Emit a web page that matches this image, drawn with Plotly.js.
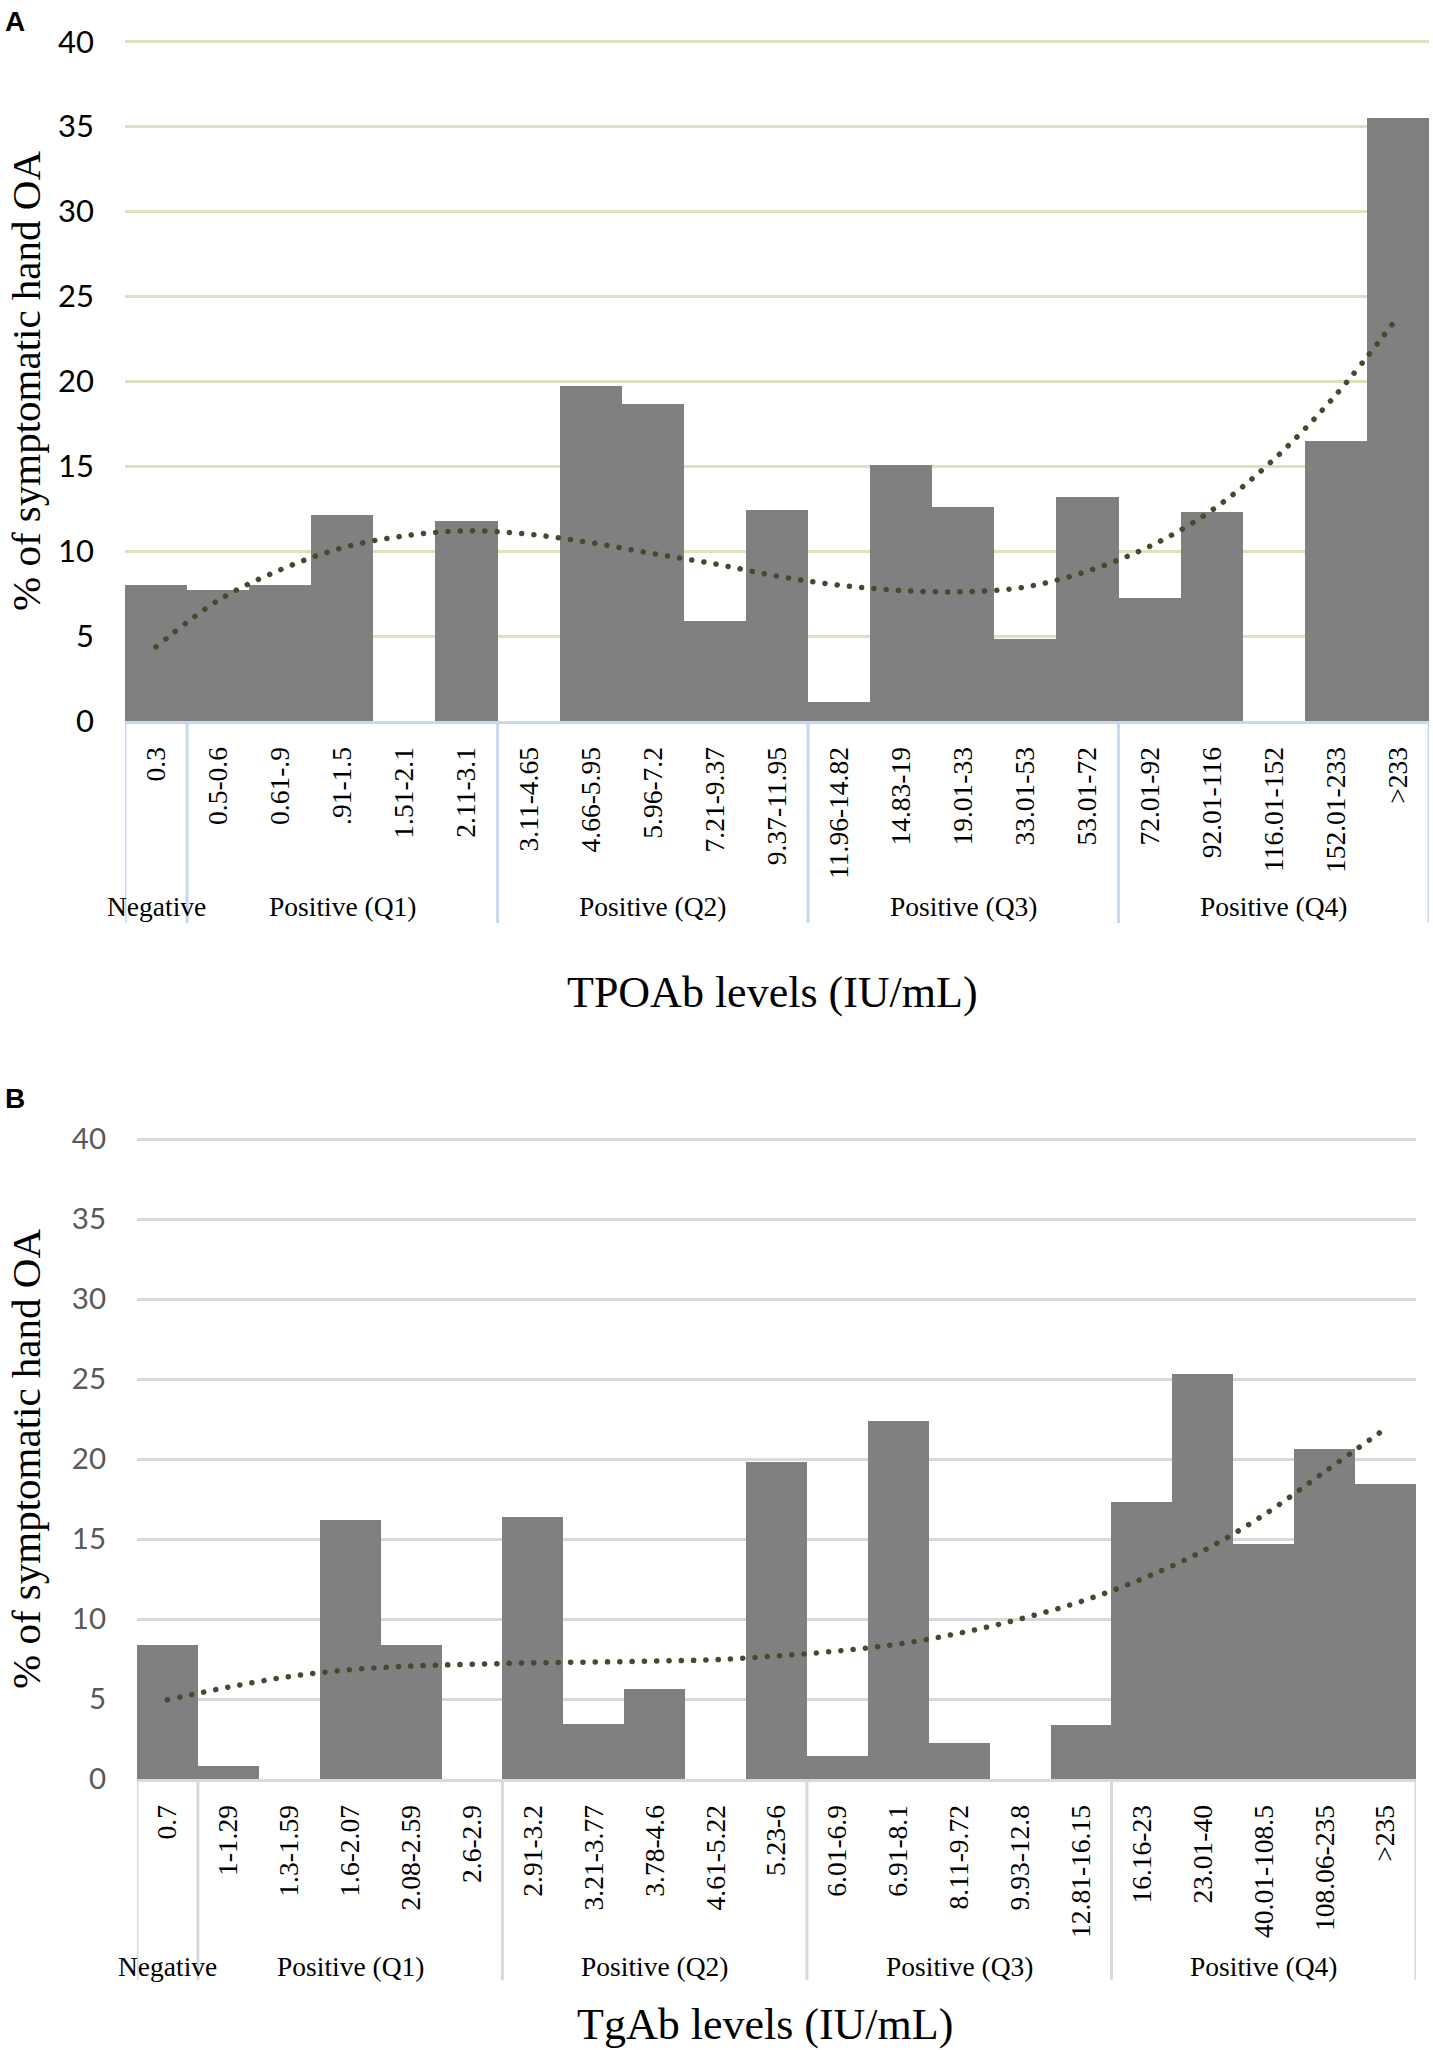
<!DOCTYPE html>
<html>
<head>
<meta charset="utf-8">
<script src="https://cdn.plot.ly/plotly-3.0.1.min.js"></script>
<style>
html,body{margin:0;padding:0;background:#fff;}
#chart{width:1433px;height:2050px;}
.scatterlayer .js-line{stroke-linecap:round;}
</style>
</head>
<body>
<div id="chart"></div>
<script>
// ---------- DATA ----------
const catsA = ["0.3","0.5-0.6","0.61-.9",".91-1.5","1.51-2.1","2.11-3.1","3.11-4.65","4.66-5.95","5.96-7.2","7.21-9.37","9.37-11.95","11.96-14.82","14.83-19","19.01-33","33.01-53","53.01-72","72.01-92","92.01-116","116.01-152","152.01-233",">233"];
const valuesA = [8.0, 7.7, 8.0, 12.15, 0, 11.8, 0, 19.7, 18.65, 5.9, 12.4, 1.1, 15.1, 12.6, 4.85, 13.2, 7.25, 12.3, 0, 16.5, 35.5];
const trendA = [4.36, 7.1, 8.9, 10.2, 10.9, 11.2, 11.0, 10.5, 9.86, 9.25, 8.53, 8.0, 7.69, 7.61, 7.89, 8.83, 10.28, 12.4, 15.4, 19.2, 23.8];
const groupNamesA = ["Negative","Positive (Q1)","Positive (Q2)","Positive (Q3)","Positive (Q4)"];
const groupSizesA = [1,5,5,5,5];

const catsB = ["0.7","1-1.29","1.3-1.59","1.6-2.07","2.08-2.59","2.6-2.9","2.91-3.2","3.21-3.77","3.78-4.6","4.61-5.22","5.23-6","6.01-6.9","6.91-8.1","8.11-9.72","9.93-12.8","12.81-16.15","16.16-23","23.01-40","40.01-108.5","108.06-235",">235"];
const valuesB = [8.4, 0.8, 0, 16.2, 8.37, 0, 16.36, 3.44, 5.6, 0, 19.8, 1.46, 22.4, 2.23, 0, 3.35, 17.3, 25.3, 14.67, 20.6, 18.45];
const trendB = [4.95, 5.74, 6.4, 6.83, 7.06, 7.17, 7.26, 7.31, 7.37, 7.46, 7.69, 8.0, 8.43, 9.11, 10.0, 11.1, 12.5, 14.25, 16.5, 19.2, 21.9];
const groupNamesB = ["Negative","Positive (Q1)","Positive (Q2)","Positive (Q3)","Positive (Q4)"];
const groupSizesB = [1,5,5,5,5];

const yTicks = [0,5,10,15,20,25,30,35,40];
const yTitle = "% of symptomatic hand OA";
const xTitleA = "TPOAb levels (IU/mL)";
const xTitleB = "TgAb levels (IU/mL)";

// ---------- LAYOUT HELPERS ----------
const W = 1433, H = 2050;
const px = v => v / W;
const py = v => 1 - v / H;
const Y_MAX = 40, Y_PAD = 0.4;   // small headroom so the 40 gridline is drawn

const SERIF = "Liberation Serif, Times New Roman, serif";
const SANS = "Lato, Open Sans, sans-serif";

const panel = {
  A: {x0:125, x1:1429, yTop:41.7, yBot:721, grid:"#d7e4bd", line:"#c6d9f0", tick:"#000000", tickSize:31,
      groupY:907, divBot:923, titleY:992, titleX:772, yTitleY:381, letterY:21},
  B: {x0:137, x1:1416, yTop:1139, yBot:1779, grid:"#d9d9d9", line:"#d9d9d9", tick:"#595959", tickSize:29.5,
      groupY:1966, divBot:1980, titleY:2024, titleX:765, yTitleY:1459, letterY:1098}
};

const traces = [
  {type:"bar", x:catsA, y:valuesA, xaxis:"x", yaxis:"y", marker:{color:"#808080", line:{width:0}}, hoverinfo:"x+y"},
  {type:"scatter", mode:"lines", x:catsA, y:trendA, xaxis:"x", yaxis:"y",
   line:{color:"#4a4730", width:5.5, dash:"0.1px,12.2px", shape:"spline", smoothing:1}},
  {type:"bar", x:catsB, y:valuesB, xaxis:"x2", yaxis:"y2", marker:{color:"#808080", line:{width:0}}, hoverinfo:"x+y"},
  {type:"scatter", mode:"lines", x:catsB, y:trendB, xaxis:"x2", yaxis:"y2",
   line:{color:"#4a4730", width:5.5, dash:"0.1px,12.2px", shape:"spline", smoothing:1}}
];

function xAxis(p, cats){
  return {
    domain:[px(p.x0), px(p.x1)], type:"category", categoryorder:"array", categoryarray:cats,
    range:[-0.5, cats.length-0.5], fixedrange:true,
    showline:true, linecolor:p.line, linewidth:3, showgrid:false, zeroline:false,
    ticks:"", tickangle:-90, ticklabelstandoff:12,
    tickfont:{family:SERIF, size:27.5, color:"#000"}
  };
}
function yAxis(p, anchor){
  const perUnit = (p.yBot - p.yTop) / Y_MAX;
  const topPx = p.yTop - Y_PAD * perUnit;
  return {
    domain:[py(p.yBot), py(topPx)], anchor:anchor, range:[0, Y_MAX + Y_PAD], tickvals:yTicks, fixedrange:true,
    showline:false, zeroline:false, showgrid:true, gridcolor:p.grid, gridwidth:3,
    ticks:"", ticklabelstandoff:30, tickfont:{family:SANS, size:p.tickSize, color:p.tick}
  };
}

const shapes = [];
const annotations = [];

function addGroups(p, xref, names, sizes){
  let start = 0;
  const bounds = [-0.5];
  names.forEach((n, i) => {
    const end = start + sizes[i] - 1;
    annotations.push({xref:xref, yref:"paper", x:(start+end)/2, y:py(p.groupY), text:n, showarrow:false,
      xanchor:"center", yanchor:"middle", font:{family:SERIF, size:27.5, color:"#000"}});
    bounds.push(end + 0.5);
    start = end + 1;
  });
  bounds.forEach(b => shapes.push({type:"line", xref:xref, yref:"paper", x0:b, x1:b,
    y0:py(p.yBot), y1:py(p.divBot), line:{color:p.line, width:3}}));
}
addGroups(panel.A, "x", groupNamesA, groupSizesA);
addGroups(panel.B, "x2", groupNamesB, groupSizesB);

[["A", panel.A, xTitleA], ["B", panel.B, xTitleB]].forEach(([letter, p, xt]) => {
  annotations.push({xref:"paper", yref:"paper", x:px(p.titleX), y:py(p.titleY), text:xt, showarrow:false,
    xanchor:"center", yanchor:"middle", font:{family:SERIF, size:44, color:"#000"}});
  annotations.push({xref:"paper", yref:"paper", x:px(26), y:py(p.yTitleY), text:yTitle, showarrow:false,
    textangle:-90, xanchor:"center", yanchor:"middle", font:{family:SERIF, size:41, color:"#000"}});
  annotations.push({xref:"paper", yref:"paper", x:px(15), y:py(p.letterY), text:"<b>"+letter+"</b>", showarrow:false,
    xanchor:"center", yanchor:"middle", font:{family:"Liberation Sans, Arial, sans-serif", size:28, color:"#000"}});
});

const layout = {
  width:W, height:H, autosize:false, margin:{l:0,r:0,t:0,b:0},
  paper_bgcolor:"#fff", plot_bgcolor:"#fff", showlegend:false, bargap:0,
  xaxis:xAxis(panel.A, catsA), yaxis:yAxis(panel.A, "x"),
  xaxis2:xAxis(panel.B, catsB), yaxis2:yAxis(panel.B, "x2"),
  shapes:shapes, annotations:annotations
};
layout.xaxis.anchor = "y";
layout.xaxis2.anchor = "y2";

Plotly.newPlot("chart", traces, layout, {staticPlot:true, displayModeBar:false});
</script>
</body>
</html>
